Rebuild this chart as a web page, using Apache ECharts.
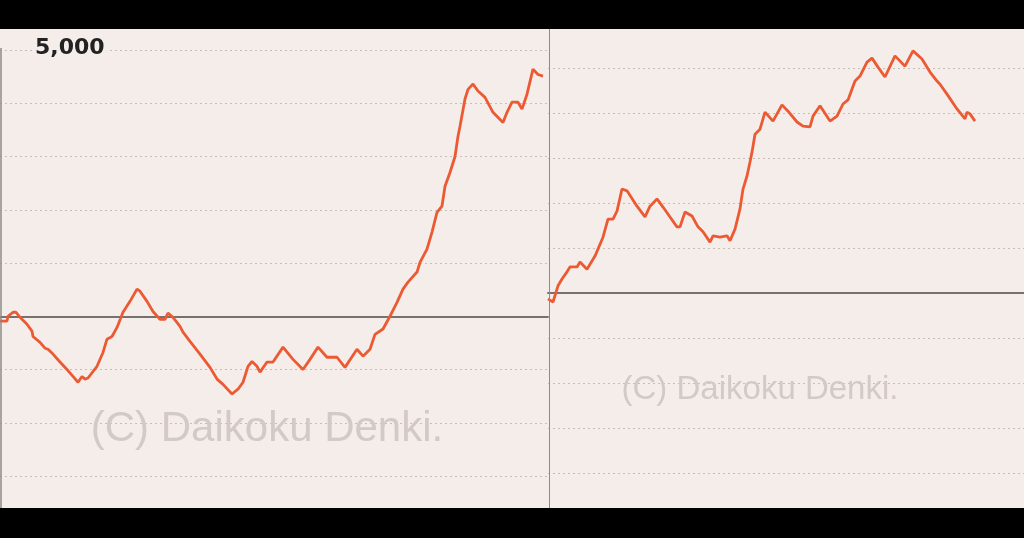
<!DOCTYPE html>
<html><head><meta charset="utf-8">
<script src="https://cdn.jsdelivr.net/npm/echarts@6/dist/echarts.min.js"></script>
<style>
html,body{margin:0;padding:0;background:#000;width:1024px;height:538px;overflow:hidden}
#bg{position:absolute;left:0;top:29px;width:1024px;height:479px;background:#f5ede9}
#chart{position:absolute;left:0;top:0;width:1024px;height:538px}
</style></head><body>
<div id="bg"></div><div id="chart"></div>
<script>
// Left graph: game count vs coin difference
const leftGames = [0,105,120,195,240,300,405,480,495,600,675,720,795,900,1005,1095,1170,1230,1275,1320,1455,1545,1605,1680,1755,1845,1950,2055,2100,2205,2295,2400,2475,2520,2595,2700,2745,2850,3000,3150,3255,3345,3480,3570,3645,3720,3780,3855,3900,4005,4095,4245,4395,4545,4650,4770,4905,5055,5175,5355,5445,5550,5625,5745,5850,5955,6045,6120,6255,6300,6405,6480,6555,6630,6675,6750,6825,6870,6900,6975,7020,7095,7170,7275,7395,7545,7605,7680,7770,7830,7905,7995,8070,8145];
const leftDiff = [-90,-90,0,75,75,-20,-150,-280,-380,-490,-600,-620,-710,-860,-1000,-1130,-1240,-1130,-1180,-1160,-940,-680,-430,-380,-210,75,280,510,470,280,90,-60,-60,60,-20,-190,-300,-470,-710,-960,-1180,-1280,-1460,-1370,-1240,-940,-850,-940,-1050,-860,-860,-580,-810,-1000,-810,-580,-770,-770,-960,-620,-750,-620,-340,-240,0,260,510,640,830,1010,1260,1580,1950,2070,2440,2700,3000,3380,3570,4080,4260,4360,4230,4110,3830,3640,3830,4020,4020,3890,4170,4640,4540,4510];
// Right graph
const rightGames = [0,75,150,210,285,330,435,480,585,630,705,825,900,975,1035,1110,1185,1335,1455,1530,1635,1725,1830,1935,1980,2055,2160,2250,2325,2430,2475,2580,2685,2730,2805,2880,2925,2985,3030,3060,3105,3180,3255,3375,3510,3600,3735,3825,3930,3975,4080,4230,4335,4425,4500,4605,4680,4785,4860,4950,5055,5205,5355,5475,5610,5730,5835,5880,5985,6135,6255,6285,6330,6405];
const rightDiff = [-130,-200,160,310,470,580,580,690,530,640,820,1240,1640,1640,1820,2310,2270,1930,1690,1930,2090,1910,1690,1470,1470,1800,1710,1470,1360,1130,1270,1240,1270,1160,1420,1870,2310,2600,2910,3130,3530,3640,4020,3820,4180,4040,3800,3710,3690,3930,4160,3820,3930,4200,4290,4710,4820,5130,5220,5020,4800,5270,5040,5380,5200,4910,4710,4640,4420,4090,3870,4020,3980,3820];
const labeledTicks = [5000];
const tickLabels = ['5,000'];
const watermark = '(C) Daikoku Denki.';

const bg = '#f5ede9';
const lineColor = '#ec5a33';
const gridColor = '#c6bebb';
const zeroColor = '#747170';

const chart = echarts.init(document.getElementById('chart'), null, {renderer:'canvas'});
const xCommon = {
  type:'value', axisTick:{show:false}, axisLabel:{show:false}, splitLine:{show:false},
  axisLine:{show:true, onZero:true, lineStyle:{color:zeroColor, width:2}}
};
const yCommon = {
  type:'value', interval:1000, axisTick:{show:false}, axisLine:{show:false},
  splitLine:{show:true, lineStyle:{color:gridColor, width:1, type:[2,3]}}
};
chart.setOption({
  animation:false,
  backgroundColor:'transparent',
  grid:[
    {left:0, width:548, top:50, bottom:62},
    {left:548, right:0, top:68, bottom:65}
  ],
  xAxis:[
    Object.assign({gridIndex:0, min:0, max:8220}, xCommon),
    Object.assign({gridIndex:1, min:0, max:7140}, xCommon)
  ],
  yAxis:[
    Object.assign({gridIndex:0, min:-3000, max:5000,
      axisLabel:{show:true, inside:true, margin:33,
        formatter:function(v){const i=labeledTicks.indexOf(v);return i>=0?'{t|'+tickLabels[i]+'}':'';},
        rich:{t:{color:'#222', fontFamily:'DejaVu Sans', fontWeight:'bold', fontSize:22,
          backgroundColor:bg, padding:[0,2,4,2]}},
        verticalAlign:'middle'}}, yCommon),
    Object.assign({gridIndex:1, min:-4000, max:5000, axisLabel:{show:false}}, yCommon)
  ],
  graphic:[
    {type:'text', x:267, y:429, z:1, silent:true,
     style:{text:watermark, font:'42px "Liberation Sans"', fill:'#d2cac7',
       textAlign:'center', textVerticalAlign:'middle', align:'center', verticalAlign:'middle'}},
    {type:'text', x:760, y:390, z:1, silent:true,
     style:{text:watermark, font:'33px "Liberation Sans"', fill:'#d2cac7',
       textAlign:'center', textVerticalAlign:'middle', align:'center', verticalAlign:'middle'}},
    {type:'line', z:5, silent:true, shape:{x1:1, y1:48, x2:1, y2:508}, style:{stroke:'#8d8a88', lineWidth:1.5}},
    {type:'line', z:5, silent:true, shape:{x1:549.5, y1:29, x2:549.5, y2:508}, style:{stroke:'#8d8a88', lineWidth:1}}
  ],
  series:[
    {type:'line', xAxisIndex:0, yAxisIndex:0, symbol:'none', clip:false,
     data:leftGames.map((g,i)=>[g,leftDiff[i]]),
     lineStyle:{color:lineColor, width:2.8}},
    {type:'line', xAxisIndex:1, yAxisIndex:1, symbol:'none', clip:false,
     data:rightGames.map((g,i)=>[g,rightDiff[i]]),
     lineStyle:{color:lineColor, width:2.8}}
  ]
});
</script>
</body></html>
